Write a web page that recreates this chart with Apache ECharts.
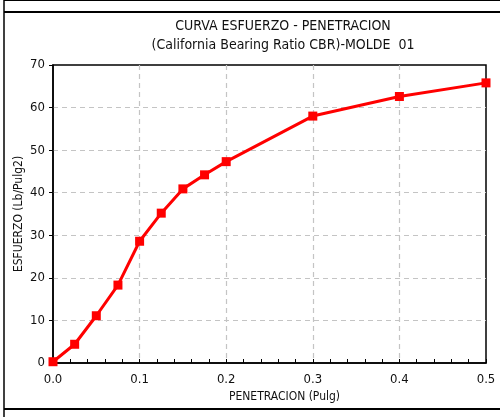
<!DOCTYPE html>
<html>
<head>
<meta charset="utf-8">
<script src="https://cdn.jsdelivr.net/npm/echarts@6/dist/echarts.min.js"></script>
<style>html,body{margin:0;padding:0;background:#fff}#c{width:500px;height:417px}</style>
</head>
<body>
<div id="c"></div>
<script>
const penetracion = [0, 0.025, 0.05, 0.075, 0.1, 0.125, 0.15, 0.175, 0.2, 0.3, 0.4, 0.5];
const esfuerzo = [0.3, 4.4, 11.1, 18.3, 28.6, 35.2, 40.9, 44.2, 47.3, 58.0, 62.6, 65.8];
const titleLines = ["CURVA ESFUERZO - PENETRACION", "(California Bearing Ratio CBR)-MOLDE  01"];
const xName = "PENETRACION (Pulg)";
const yName = "ESFUERZO (Lb/Pulg2)";

const FONT = '"DejaVu Sans Condensed", "Liberation Sans Narrow", "Arial Narrow", "Liberation Sans", sans-serif';
const chart = echarts.init(document.getElementById('c'), null, {renderer: 'canvas'});
chart.setOption({
  animation: false,
  backgroundColor: '#fff',
  title: {
    text: titleLines.join('\n'),
    left: 278, top: 12, textAlign: 'center',
    textStyle: {fontFamily: FONT, fontSize: 14, fontWeight: 'normal', color: '#111', lineHeight: 19}
  },
  grid: {left: 53, right: 14, top: 65, bottom: 54, show: true, borderColor: '#000', borderWidth: 1.5, backgroundColor: 'transparent'},
  xAxis: {
    type: 'value', min: 0, max: 0.5, interval: 0.1,
    name: xName, nameLocation: 'middle', nameGap: 28,
    nameTextStyle: {fontFamily: FONT, fontSize: 12, color: '#111', padding: [0, 0, 0, 30]},
    axisLine: {lineStyle: {color: '#000', width: 1.5}},
    axisTick: {inside: true, length: 4, lineStyle: {color: '#000'}},
    minorTick: {show: true, splitNumber: 5, length: 4, lineStyle: {color: '#000'}},
    axisLabel: {fontFamily: FONT, fontSize: 13, color: '#111', margin: 10, formatter: v => v.toFixed(1)},
    splitLine: {show: true, showMinLine: false, showMaxLine: false, lineStyle: {color: '#c4c4c4', type: [5, 4], width: 1.2}}
  },
  yAxis: {
    type: 'value', min: 0, max: 70, interval: 10,
    name: yName, nameLocation: 'middle', nameGap: 28, nameRotate: 90, nameMoveOverlap: false,
    nameTextStyle: {fontFamily: FONT, fontSize: 12, color: '#111'},
    axisLine: {show: true, lineStyle: {color: '#000', width: 1.5}},
    axisTick: {show: true, inside: false, length: 4, lineStyle: {color: '#000'}},
    axisLabel: {fontFamily: FONT, fontSize: 13, color: '#111', margin: 8},
    splitLine: {show: true, showMinLine: false, showMaxLine: false, lineStyle: {color: '#c4c4c4', type: [5, 4], width: 1.2}}
  },
  series: [{
    type: 'line',
    data: penetracion.map((x, i) => [x, esfuerzo[i]]),
    symbol: 'rect', symbolSize: 9,
    lineStyle: {color: '#ff0000', width: 3},
    itemStyle: {color: '#ff0000'},
    clip: false
  }],
  graphic: [
    {type: 'line', shape: {x1: 4, y1: 0, x2: 4, y2: 417}, style: {stroke: '#000', lineWidth: 1.5}},
    {type: 'line', shape: {x1: 4, y1: 0.5, x2: 500, y2: 0.5}, style: {stroke: '#000', lineWidth: 1}},
    {type: 'line', shape: {x1: 4, y1: 12, x2: 500, y2: 12}, style: {stroke: '#000', lineWidth: 2}},
    {type: 'line', shape: {x1: 4, y1: 409, x2: 500, y2: 409}, style: {stroke: '#000', lineWidth: 2}}
  ]
});
</script>
</body>
</html>
